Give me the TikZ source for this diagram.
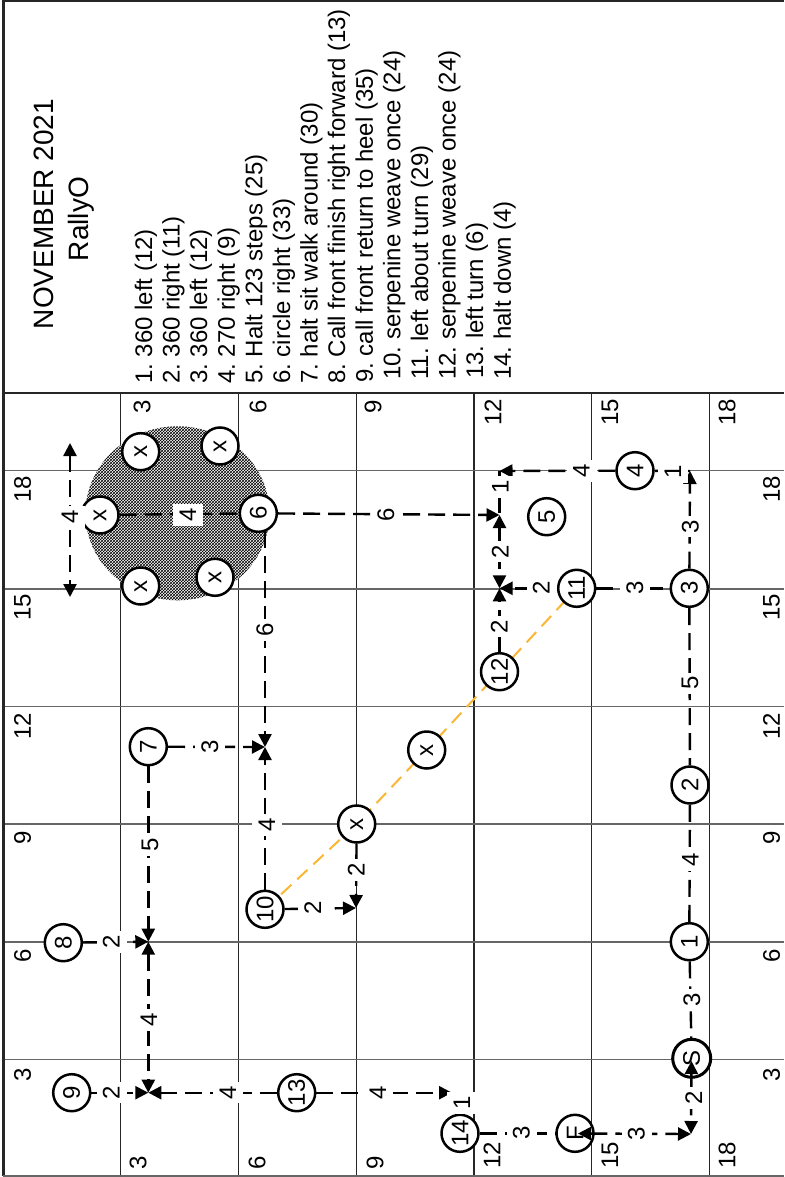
\documentclass[tikz,border=0pt]{standalone}
\usepackage{fontspec}
\setmainfont{Liberation Sans}
\usetikzlibrary{arrows.meta,patterns}
\pgfdeclarelayer{gridl}
\pgfdeclarelayer{lines}
\pgfdeclarelayer{top}
\pgfsetlayers{gridl,lines,main,top}
\definecolor{serp}{RGB}{250,182,52}
\newcommand{\fgrid}{\fontsize{24}{24}\selectfont}
\newcommand{\flist}{\frenchspacing\fontsize{24}{27.6}\selectfont}
\newcommand{\ftitle}{\fontsize{28}{34}\selectfont}
\begin{document}
\begin{tikzpicture}[x=1pt,y=-1pt,
  vline/.style={line width=1.1pt, black!85},
  hline/.style={line width=1.3pt, black!60},
  frame/.style={line width=2.4pt, black!85},
  conn/.style={line width=2.4pt, dash pattern=on 17pt off 8pt},
  arr/.style={conn, -{Triangle[length=13pt,width=13pt]}},
  darr/.style={conn, {Triangle[length=13pt,width=13pt]}-{Triangle[length=13pt,width=13pt]}},
  serpline/.style={line width=2pt, serp, dash pattern=on 14pt off 8pt},
  stn/.style={circle, draw, line width=2.5pt, fill=white, minimum size=37pt, inner sep=0pt, font=\fgrid, rotate=90},
  lbl/.style={fill=white, inner xsep=4pt, inner ysep=4pt, text height=19pt, text depth=3pt, font=\fgrid, rotate=90},
  axl/.style={inner sep=0pt, font=\fgrid, rotate=90},
  itm/.style={inner sep=0pt, font=\flist, rotate=90, anchor=base west},
  ttl/.style={inner sep=0pt, font=\ftitle, rotate=90, anchor=base},
]
\useasboundingbox (0,0) rectangle (784,1177);

% ---------- grid and frame ----------
\begin{pgfonlayer}{gridl}
\foreach \gx in {120.7,238.7,356.7,474,591.7,709.3}
  \draw[vline] (\gx,393) -- (\gx,1176);
\foreach \gy in {470.7,589,706.7,824,942,1059.3}
  \draw[hline] (3.3,\gy) -- (784,\gy);
\draw[frame] (784,1.2) -- (3.3,1.2) -- (3.3,1176);
\draw[frame] (3.3,393) -- (784,393);
\draw[hline] (3.3,1176) -- (784,1176);
% shaded circle area
\fill[white] (177.5,513.3) ellipse [x radius=92pt, y radius=87pt];
\fill[pattern=crosshatch, pattern color=black] (177.5,513.3) ellipse [x radius=92pt, y radius=87pt];
\end{pgfonlayer}

% ---------- header ----------
\node[ttl] (title1) at (53,214) {NOVEMBER 2021};
\node[ttl] (title2) at (88,219) {RallyO};
\node[itm] (item1) at (152.0,384) {1. 360 left (12)};
\node[itm] (item2) at (179.6,384) {2. 360 right (11)};
\node[itm] (item3) at (207.2,384) {3. 360 left (12)};
\node[itm] (item4) at (234.8,384) {4. 270 right (9)};
\node[itm] (item5) at (262.4,384) {5. Halt 123 steps (25)};
\node[itm] (item6) at (290.0,384) {6. circle right (33)};
\node[itm] (item7) at (317.6,384) {7. halt sit walk around (30)};
\node[itm] (item8) at (345.2,384) {8. Call front finish right forward (13)};
\node[itm] (item9) at (372.8,383) {9. call front return to heel (35)};
\node[itm] (item10) at (400.4,380) {10. serpenine weave once (24)};
\node[itm] (item11) at (428.0,380) {11. left about turn (29)};
\node[itm] (item12) at (455.6,380) {12. serpenine weave once (24)};
\node[itm] (item13) at (483.2,379) {13. left turn (6)};
\node[itm] (item14) at (510.8,380) {14. halt down (4)};

% ---------- axis numbers ----------
\foreach \v/\yy in {18/489, 15/607, 12/726, 9/838, 6/956, 3/1075} {
  \node[axl] (al\v) at (22.5,\yy) {\v};
  \node[axl] (ar\v) at (771.5,\yy) {\v};
}
\foreach \v/\xx/\yy in {3/142/407, 6/258/407, 9/373/407, 12/493/412, 15/610/412, 18/727/412}
  \node[axl] (at\v) at (\xx,\yy) {\v};
\foreach \v/\xx/\yy in {3/138/1163, 6/257/1163, 9/375/1163, 12/492/1155, 15/610/1155, 18/727/1155}
  \node[axl] (ab\v) at (\xx,\yy) {\v};

% ---------- stations ----------
\node[stn] (X1) at (140.7,451.7) {x};
\node[stn] (X2) at (220,446) {x};
\node[stn] (X3) at (100,515) {x};
\node[stn] (C6) at (258.3,513.3) {6};
\node[stn] (X4) at (140.7,586) {x};
\node[stn] (X5) at (215,577.3) {x};
\node[stn] (C7) at (148.3,746.7) {7};
\node[stn] (C10) at (265,909.3) {10};
\node[stn] (XA) at (356.7,824) {x};
\node[stn] (XB) at (426.7,750) {x};
\node[stn] (C12) at (499.5,671.7) {12};
\node[stn] (C11) at (576.7,588.3) {11};
\node[stn] (C5) at (546.7,516.7) {5};
\node[stn] (C4) at (635,470.7) {4};
\node[stn] (C3) at (689.3,588.3) {3};
\node[stn] (C2) at (690,785) {2};
\node[stn] (C1) at (689.3,941.7) {1};
\node[stn, line width=3pt, minimum size=38pt] (CS) at (691.7,1058.3) {S};
\node[stn] (CF) at (575,1133.3) {F};
\node[stn] (C14) at (460,1133.3) {14};
\node[stn] (C8) at (63.3,942.7) {8};
\node[stn] (C9) at (71.7,1092.7) {9};
\node[stn] (C13) at (296.7,1092.7) {13};

% ---------- junction points ----------
\coordinate (T1) at (70,443);
\coordinate (T2) at (70,597);
\coordinate (P1) at (265,747);
\coordinate (C6s) at (265,531);
\coordinate (P2) at (148.3,941.7);
\coordinate (P3) at (148.3,1092.7);
\coordinate (P4) at (356,908);
\coordinate (P5) at (499.5,588.3);
\coordinate (P6) at (499.5,515);
\coordinate (P7) at (452,1092.7);
\coordinate (P8) at (691,1134);
\coordinate (Q1) at (690,471);
\coordinate (Q2) at (499.5,471);
\coordinate (sIn) at (691.5,1061);
\coordinate (fIn) at (578,1133.5);

% ---------- connectors ----------
\begin{pgfonlayer}{lines}
\draw[serpline] (C10.center) -- (XA.center) -- (XB.center) -- (C12.center) -- (C11.center);
\draw[darr] (T1) -- (T2);
\draw[conn] (X3) -- (C6);
\draw[arr] (C6) -- (P6);
\draw[arr] (C6s) -- (P1);
\draw[arr] (C7) -- (P1);
\draw[arr] (C10) -- (P1);
\draw[arr] (C10) -- (P4);
\draw[arr] (XA) -- (P4);
\draw[arr] (C7) -- (P2);
\draw[arr] (C8) -- (P2);
\draw[darr] (P2) -- (P3);
\draw[arr] (C9) -- (P3);
\draw[arr] (C13) -- (P3);
\draw[arr] (C13) -- (P7);
\draw[conn] (C14) -- (CF);
\draw[arr] (C3) -- (Q1);
\draw[conn] (C4) -- (Q1);
\draw[arr] (C4) -- (Q2);
\draw[conn] (Q2) -- (P6);
\draw[darr] (P6) -- (P5);
\draw[arr] (C11) -- (P5);
\draw[arr] (C12) -- (P5);
\draw[conn] (C11) -- (C3);
\draw[conn] (C3) -- (C2);
\draw[conn] (C2) -- (C1);
\draw[conn] (C1) -- (CS);
\end{pgfonlayer}

% ---------- distance labels ----------
\node[lbl] (d1) at (70,517) {4};
\node[lbl] (d2) at (188,515) {4};
\node[lbl] (d3) at (386,515) {6};
\node[lbl] (d4) at (265,630) {6};
\node[lbl] (d5) at (210,747) {3};
\node[lbl] (d6) at (267,825) {4};
\node[lbl] (d7) at (313,908) {2};
\node[lbl] (d8) at (356.5,870) {2};
\node[lbl] (d9) at (150,845) {5};
\node[lbl] (d10) at (111.7,942) {2};
\node[lbl] (d11) at (149,1020) {4};
\node[lbl] (d12) at (111.7,1092.7) {2};
\node[lbl] (d13) at (228,1092.7) {4};
\node[lbl] (d14) at (378,1092.7) {4};
\node[lbl] (d15) at (462,1103) {1};
\node[lbl] (d16) at (521.7,1133.3) {3};
\node[lbl] (d18) at (692,1000) {3};
\node[lbl] (d19) at (690.5,860) {4};
\node[lbl] (d20) at (690,683.3) {5};
\node[lbl] (d21) at (635,588) {3};
\node[lbl] (d22) at (690.5,526.7) {3};
\node[lbl] (d23) at (673,472) {1};
\node[lbl] (d24) at (581.7,471) {4};
\node[lbl] (d25) at (500.5,487) {1};
\node[lbl] (d26) at (500.5,551.7) {2};
\node[lbl] (d27) at (541.7,588.3) {2};
\node[lbl] (d28) at (499.5,626.7) {2};

% ---------- start / finish arrows on top ----------
\begin{pgfonlayer}{top}
\draw[darr] (sIn) -- (P8);
\draw[darr] (fIn) -- (P8);
\node[lbl] (d17) at (636.7,1133.5) {3};
\node[lbl] (d29) at (694,1098) {2};
\end{pgfonlayer}
\end{tikzpicture}
\end{document}
